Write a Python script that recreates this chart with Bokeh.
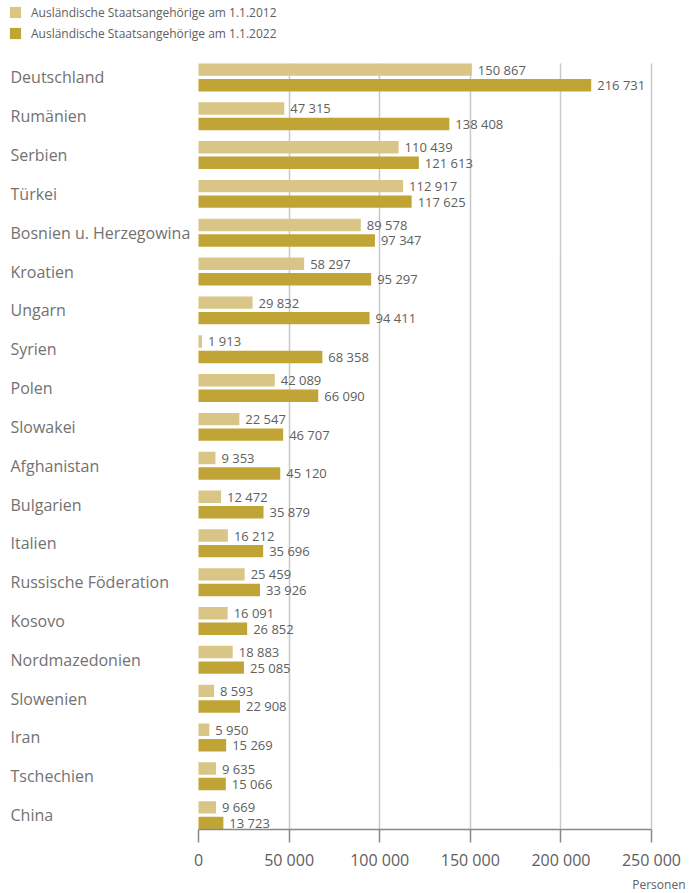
import numpy as np
from bokeh.plotting import figure
from bokeh.models import (ColumnDataSource, Range1d, FixedTicker, LabelSet, Title,
                          Legend, LegendItem)
from bokeh.core.properties import value
from bokeh.embed import file_html
from bokeh.resources import INLINE

countries = ["Deutschland", "Rumänien", "Serbien", "Türkei", "Bosnien u. Herzegowina",
             "Kroatien", "Ungarn", "Syrien", "Polen", "Slowakei", "Afghanistan",
             "Bulgarien", "Italien", "Russische Föderation", "Kosovo", "Nordmazedonien",
             "Slowenien", "Iran", "Tschechien", "China"]
v2012 = [150867, 47315, 110439, 112917, 89578, 58297, 29832, 1913, 42089, 22547,
         9353, 12472, 16212, 25459, 16091, 18883, 8593, 5950, 9635, 9669]
v2022 = [216731, 138408, 121613, 117625, 97347, 95297, 94411, 68358, 66090, 46707,
         45120, 35879, 35696, 33926, 26852, 25085, 22908, 15269, 15066, 13723]
series_names = ["Ausländische Staatsangehörige am 1.1.2012",
                "Ausländische Staatsangehörige am 1.1.2022"]
ticks = [0, 50000, 100000, 150000, 200000, 250000]
tick_labels = ["0", "50 000", "100 000", "150 000", "200 000", "250 000"]
unit_label = "Personen"

LIGHT = "#d9c686"
DARK = "#c0a435"
FONT = "Open Sans"

# layout (pixels)
W, H = 688, 892
AX_L, AX_R = 198, 651          # pixel of 0 and 250 000
FRAME_BOTTOM = 835
PLOT_TOP = 63
n = len(countries)

def fmt(v):
    return f"{v:,}".replace(",", " ")

units_per_px = (ticks[-1] - ticks[0]) / (AX_R - AX_L)
x_start = ticks[0] - AX_L * units_per_px
x_end = ticks[0] + (W - AX_L) * units_per_px
y_bottom = (n - 1) + 0.37
y_top_plot = -0.37
pitch = (FRAME_BOTTOM - PLOT_TOP) / (y_bottom - y_top_plot)
y_top = y_top_plot - PLOT_TOP / pitch

ypos = np.arange(n, dtype=float)
src = ColumnDataSource(dict(
    country=countries,
    y=ypos,
    y1=ypos - 0.2,
    y2=ypos + 0.2,
    v2012=v2012,
    v2022=v2022,
    t2012=[fmt(v) for v in v2012],
    t2022=[fmt(v) for v in v2022],
))

p = figure(width=W, height=H, output_backend="svg", toolbar_location=None,
           x_range=Range1d(x_start, x_end), y_range=Range1d(y_bottom, y_top),
           y_axis_location=None, min_border_left=0, min_border_right=0,
           min_border_top=0, min_border_bottom=H - FRAME_BOTTOM)
p.outline_line_color = None
p.background_fill_color = "white"
p.border_fill_color = "white"

r1 = p.hbar(y="y1", left=0, right="v2012", height=0.32, source=src,
            fill_color=LIGHT, line_color=None)
r2 = p.hbar(y="y2", left=0, right="v2022", height=0.32, source=src,
            fill_color=DARK, line_color=None)

p.ygrid.visible = False
g = p.xgrid[0]
g.ticker = FixedTicker(ticks=ticks[1:])
g.grid_line_color = "#c8c8c8"
g.grid_line_width = 1.5
if "cross_bounds" in g.properties():
    g.cross_bounds = (y_top_plot, y_bottom)

ax = p.xaxis[0]
ax.bounds = (ticks[0], ticks[-1])
ax.ticker = FixedTicker(ticks=ticks)
ax.major_label_overrides = {t: l for t, l in zip(ticks, tick_labels)}
ax.axis_line_color = "#888888"
ax.axis_line_width = 1.5
ax.major_tick_line_color = "#888888"
ax.major_tick_line_width = 1.5
ax.major_tick_in = 0
ax.major_tick_out = 13
ax.minor_tick_line_color = None
ax.major_label_standoff = 6
ax.major_label_text_font = FONT
ax.major_label_text_font_size = "16px"
ax.major_label_text_color = "#5e5e5e"

lab_style = dict(text_font=value(FONT), text_color="#606060", text_baseline="middle",
                 text_font_size="13px", x_offset=6)
p.add_layout(LabelSet(x="v2012", y="y1", text="t2012", source=src, **lab_style))
p.add_layout(LabelSet(x="v2022", y="y2", text="t2022", source=src, **lab_style))

p.text(x=x_start, y="y", text="country", source=src, x_offset=10,
       text_font=value(FONT), text_font_size="16px", text_color="#727272",
       text_baseline="middle", text_align="left")

p.add_layout(Title(text=unit_label, align="right", offset=3, standoff=0,
                   text_font=FONT, text_font_size="12px", text_color="#606060",
                   text_font_style="normal"), "below")

legend = Legend(items=[LegendItem(label=series_names[0], renderers=[r1]),
                       LegendItem(label=series_names[1], renderers=[r2])],
                location=(8, FRAME_BOTTOM - 49), orientation="vertical",
                glyph_width=14, glyph_height=14, label_height=20, spacing=1,
                label_standoff=9, padding=0, margin=0, border_line_color=None,
                background_fill_alpha=0, label_text_font=FONT,
                label_text_font_size="12px", label_text_color="#606060")
p.add_layout(legend, "center")

open("out.html", "w").write(file_html(p, INLINE))
